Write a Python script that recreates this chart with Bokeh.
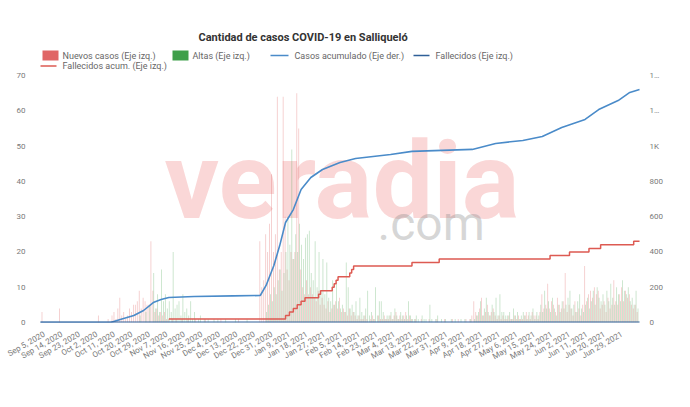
import math
import numpy as np
import pandas as pd
from bokeh.plotting import figure
from bokeh.models import Range1d, LinearAxis, FixedTicker, Label
from bokeh.core.properties import value
from bokeh.embed import file_html
from bokeh.resources import INLINE

INICIO = pd.Timestamp("2020-09-03")
FIN = pd.Timestamp("2021-07-08")

# ---- daily values (left axis) ----
nuevos_2020_09 = [0,3,0,0,0,0,0,0,0,0, 4,0,0,0,0,0,0,0,0,0, 0,0,0,0,0,0,0,0]
altas_2020_09  = [0,0,0,0,0,0,0,0,0,0, 0,0,0,0,0,0,0,0,0,0, 0,0,0,0,0,0,0,0]
nuevos_2020_10 = [0,0,2,0,0,0,0,1,0,2, 3,1,4,7,2,3,1,2,4,3, 5,5,6,9,4,7,6,5,5,23, 9]
altas_2020_10  = [0,0,0,0,0,0,0,0,0,0, 0,0,0,0,0,0,0,0,0,0, 0,0,0,2,0,0,3,0,5,0, 14]
nuevos_2020_11 = [3,4,2,3,2,3,1,1,0,1, 0,1,0,0,1,0,0,1,0,0, 0,1,0,0,0,0,1,0,0,0]
altas_2020_11  = [4,8,3,15,6,8,4,6,3,20, 4,5,6,2,8,3,4,2,6,1, 3,0,1,2,0,1,0,1,0,0]
nuevos_2020_12 = [0,0,0,0,1,0,0,0,0,0, 0,0,0,1,0,0,0,0,0,0, 0,0,0,0,23,10,12,25,20,28, 42]
altas_2020_12  = [1,0,1,0,0,0,1,0,0,0, 0,1,0,0,0,0,0,1,0,0, 0,0,0,0,0,0,0,3,5,8, 6]
nuevos_2021_01 = [20,25,64,15,20,64,30,15,12,20, 18,20,65,55,15,10,8,12,8,10, 8,7,6,9,5,7,5,4,6,3, 4]
altas_2021_01  = [10,8,12,15,9,14,20,30,22,49, 18,25,20,28,22,18,24,25,26,14, 12,23,10,20,9,18,8,17,7,6, 12]
nuevos_2021_02 = [5,6,4,7,3,4,3,2,4,2, 3,2,1,2,1,1,2,1,0,1, 2,1,0,2,1,1,2,1]
altas_2021_02  = [5,11,6,4,5,3,17,10,4,5, 3,6,2,7,3,2,4,9,2,3, 1,10,2,6,6,3,1,2]
nuevos_2021_03 = [1,2,1,2,3,1,2,1,2,3, 1,2,1,0,1,0,0,1,0,0, 0,1,0,0,0,1,0,0,0,1, 0]
altas_2021_03  = [2,3,1,4,2,1,3,2,1,2, 6,2,1,1,2,1,0,2,1,1, 0,5,1,0,1,2,0,1,0,1, 0]
nuevos_2021_04 = [0,0,1,0,0,1,0,0,0,1, 0,1,2,6,3,2,4,7,2,3, 5,2,3,4,2,1,2,1,2,1]
altas_2021_04  = [0,1,0,1,0,0,1,0,1,0, 0,1,0,1,2,3,6,2,4,7, 3,2,5,3,7,2,8,3,3,2]
nuevos_2021_05 = [1,2,1,1,2,1,2,1,1,2, 3,2,1,3,2,2,1,3,8,4, 5,11,4,6,5,3,7,5,4,6, 14]
altas_2021_05  = [2,3,1,4,2,3,1,2,3,2, 1,3,2,4,1,3,2,5,3,9, 4,6,3,7,4,2,5,3,6,4, 5]
nuevos_2021_06 = [3,5,4,2,6,3,4,2,5,16, 6,8,9,7,10,8,9,4,5,6, 3,7,4,5,12,6,5,8,10,6]
altas_2021_06  = [7,9,4,5,3,6,8,4,3,5, 7,4,6,9,5,10,7,6,8,5, 9,6,11,7,5,10,8,6,12,9]
nuevos_2021_07 = [9,7,8,5,4,5,3,0]
altas_2021_07  = [8,10,6,7,5,9,4,0]

meses = [
    ("2020-09-03", nuevos_2020_09, altas_2020_09),
    ("2020-10-01", nuevos_2020_10, altas_2020_10),
    ("2020-11-01", nuevos_2020_11, altas_2020_11),
    ("2020-12-01", nuevos_2020_12, altas_2020_12),
    ("2021-01-01", nuevos_2021_01, altas_2021_01),
    ("2021-02-01", nuevos_2021_02, altas_2021_02),
    ("2021-03-01", nuevos_2021_03, altas_2021_03),
    ("2021-04-01", nuevos_2021_04, altas_2021_04),
    ("2021-05-01", nuevos_2021_05, altas_2021_05),
    ("2021-06-01", nuevos_2021_06, altas_2021_06),
    ("2021-07-01", nuevos_2021_07, altas_2021_07),
]

# ---- cumulative cases (right axis) ----
casos_fechas = ["2020-09-03","2020-10-09","2020-10-14","2020-10-21","2020-10-26","2020-10-31",
                "2020-11-04","2020-11-08","2020-11-21","2020-12-11","2020-12-25","2020-12-28",
                "2021-01-01","2021-01-04","2021-01-07","2021-01-11","2021-01-15","2021-01-20",
                "2021-01-26","2021-02-04","2021-02-12","2021-02-21","2021-03-02","2021-03-13",
                "2021-04-13","2021-04-25","2021-05-09","2021-05-19","2021-05-29","2021-06-10",
                "2021-06-17","2021-06-27","2021-07-03","2021-07-08"]
casos_acum = [0,0,17,40,68,113,130,142,147,151,153,210,323,436,567,640,754,822,
              867,907,930,941,952,970,981,1015,1032,1054,1105,1151,1207,1258,1304,1321]

# ---- cumulative deaths (left axis) ----
fall_acum_fechas = ["2020-11-08","2021-01-06","2021-01-07","2021-01-09","2021-01-11","2021-01-13",
                    "2021-01-15","2021-01-17","2021-01-24","2021-01-25","2021-01-31","2021-02-01",
                    "2021-02-02","2021-02-03","2021-02-09","2021-02-10","2021-02-11","2021-03-13",
                    "2021-03-27","2021-05-23","2021-06-02","2021-06-12","2021-06-18","2021-07-05",
                    "2021-07-08"]
fall_acum = [1,1,2,3,4,5,6,7,8,9,10,11,12,13,14,15,16,17,18,19,20,21,22,23,23]

# ---- daily deaths line (left axis) ----
fall_fechas = ["2020-09-03","2021-07-08"]
fallecidos = [0,0]

# ---- axis ticks ----
x_tick_labels = ["Sep 5, 2020","Sep 14, 2020","Sep 23, 2020","Oct 2, 2020","Oct 11, 2020","Oct 20, 2020",
                 "Oct 29, 2020","Nov 7, 2020","Nov 16, 2020","Nov 25, 2020","Dec 4, 2020","Dec 13, 2020",
                 "Dec 22, 2020","Dec 31, 2020","Jan 9, 2021","Jan 18, 2021","Jan 27, 2021","Feb 5, 2021",
                 "Feb 14, 2021","Feb 23, 2021","Mar 4, 2021","Mar 13, 2021","Mar 22, 2021","Mar 31, 2021",
                 "Apr 9, 2021","Apr 18, 2021","Apr 27, 2021","May 6, 2021","May 15, 2021","May 24, 2021",
                 "Jun 2, 2021","Jun 11, 2021","Jun 20, 2021","Jun 29, 2021"]
y_left_ticks = [0,10,20,30,40,50,60,70]
y_right_ticks = [0,200,400,600,800,1000,1200,1400]
y_right_labels = ["0","200","400","600","800","1K","1…","1…"]

TITULO = "Cantidad de casos COVID-19 en Salliqueló"
series_nombres = ["Nuevos casos (Eje izq.)", "Altas (Eje izq.)", "Casos acumulado (Eje der.)",
                  "Fallecidos (Eje izq.)", "Fallecidos acum. (Eje izq.)"]


def dia(f):
    return (pd.Timestamp(f) - INICIO).days


dias, nuevos, altas = [], [], []
for inicio_mes, n, a in meses:
    d0 = dia(inicio_mes)
    for i, (vn, va) in enumerate(zip(n, a)):
        dias.append(d0 + i)
        nuevos.append(vn)
        altas.append(va)
dias = np.array(dias, dtype=float)
ndias = (FIN - INICIO).days

FONT = "Roboto"
C_NUEVOS = "#e06666"
C_ALTAS = "#3f9f4a"
C_CASOS = "#4a8bc9"
C_FALL = "#2f5f98"
C_FACUM = "#dd5a52"

# ---- layout geometry (canvas pixels) ----
W, H = 674, 391
FR_L, FR_R, FR_B = 39, 640, 322          # frame left/right/bottom
Y70_PX = 75                               # where 70 sits on the left axis
X0, X1 = -0.5, ndias + 0.5
PX_PER_DAY = (FR_R - FR_L) / (X1 - X0)
PX_PER_UNIT = (FR_B - Y70_PX) / 70.0
YTOP = FR_B / PX_PER_UNIT                 # frame reaches the canvas top: room for title and legend


def xd(px):
    return X0 + (px - FR_L) / PX_PER_DAY


def yd(py):
    return (FR_B - py) / PX_PER_UNIT


p = figure(width=W, height=H, output_backend="svg", toolbar_location=None, title=None,
           x_range=Range1d(X0, X1), y_range=Range1d(0, YTOP),
           min_border_left=FR_L, min_border_right=W - FR_R, min_border_top=0,
           min_border_bottom=H - FR_B)
p.extra_y_ranges = {"der": Range1d(0, YTOP * 20)}
p.outline_line_color = None
p.xgrid.visible = False
p.ygrid.visible = False
p.background_fill_color = "white"

# watermark
p.add_layout(Label(x=125, y=79, x_units="screen", y_units="screen", text="veradia",
                   text_font=FONT, text_font_style="bold", text_font_size="108px",
                   text_color="#e53935", text_alpha=0.2, level="underlay"))
p.add_layout(Label(x=338, y=71, x_units="screen", y_units="screen", text=".com",
                   text_font=FONT, text_font_size="48px",
                   text_color="#8a8a8a", text_alpha=0.35, level="underlay"))

# bars
p.vbar(x=dias - 0.22, top=nuevos, width=0.44, fill_color=C_NUEVOS, fill_alpha=0.35, line_color=None)
p.vbar(x=dias + 0.22, top=altas, width=0.44, fill_color=C_ALTAS, fill_alpha=0.3, line_color=None)

# lines
p.line([dia(f) for f in casos_fechas], casos_acum, y_range_name="der",
       line_color=C_CASOS, line_width=1.6)
p.step([dia(f) for f in fall_acum_fechas], fall_acum, mode="after",
       line_color=C_FACUM, line_width=1.5)
p.line([dia(f) for f in fall_fechas], fallecidos, line_color=C_FALL, line_width=2.2)

# title (inside the extended frame, above the data area)
p.text(x=[xd(198)], y=[yd(37)], text=[TITULO], text_align="left", text_baseline="middle",
       text_font=value(FONT), text_font_style="bold", text_font_size="11px", text_color="#333333")

# legend
p.rect(x=[xd(50), xd(180)], y=[yd(55), yd(55)], width=16, height=10,
       width_units="screen", height_units="screen",
       fill_color=[C_NUEVOS, C_ALTAS], line_color=None)
p.segment(x0=[xd(270), xd(413), xd(40)], y0=[yd(55), yd(55), yd(65.5)],
          x1=[xd(288), xd(429), xd(56)], y1=[yd(55), yd(55), yd(65.5)],
          line_color=[C_CASOS, C_FALL, C_FACUM], line_width=1.6)
p.text(x=[xd(62), xd(192), xd(294), xd(435), xd(62)],
       y=[yd(55), yd(55), yd(55), yd(55), yd(65.5)], text=series_nombres,
       text_align="left", text_baseline="middle", text_font=value(FONT),
       text_font_size="9px", text_color="#666666")

# axes
ax_l = p.yaxis[0]
ax_l.ticker = FixedTicker(ticks=y_left_ticks)
ax_r = LinearAxis(y_range_name="der", ticker=FixedTicker(ticks=y_right_ticks),
                  major_label_overrides={t: s for t, s in zip(y_right_ticks, y_right_labels)})
p.add_layout(ax_r, "right")
x_ticks = [dia(pd.to_datetime(s)) for s in x_tick_labels]
ax_b = p.xaxis[0]
ax_b.ticker = FixedTicker(ticks=x_ticks)
ax_b.major_label_overrides = {t: s for t, s in zip(x_ticks, x_tick_labels)}
ax_b.major_label_orientation = math.pi / 6

for ax in (ax_l, ax_r, ax_b):
    ax.axis_line_color = None
    ax.major_tick_line_color = None
    ax.minor_tick_line_color = None
    ax.major_label_text_font = FONT
    ax.major_label_text_font_size = "8px"
    ax.major_label_text_color = "#7a7a7a"
ax_l.major_label_standoff = 8
ax_r.major_label_standoff = 3
ax_b.major_label_standoff = 5

open("out.html", "w").write(file_html(p, INLINE))
